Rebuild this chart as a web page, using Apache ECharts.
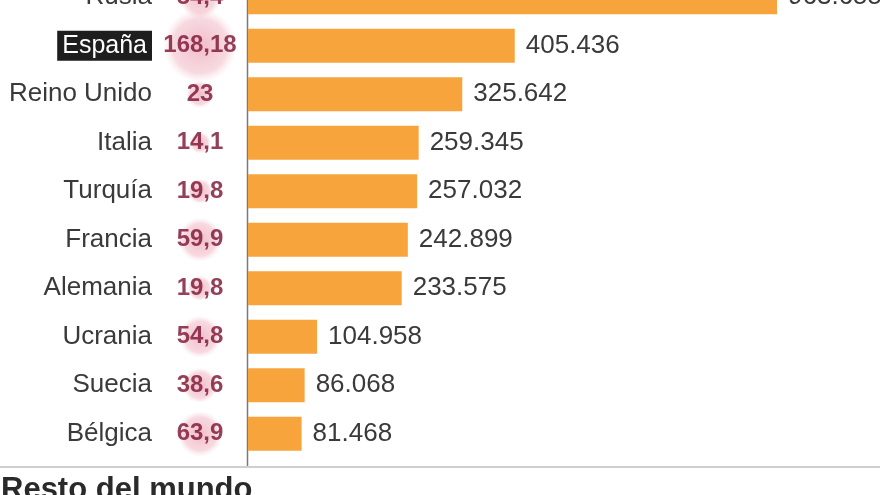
<!DOCTYPE html>
<html>
<head>
<meta charset="utf-8">
<script src="https://cdn.jsdelivr.net/npm/echarts@6/dist/echarts.min.js"></script>
<style>html,body{margin:0;padding:0;background:#fff}#c{width:880px;height:495px}</style>
</head>
<body>
<div id="c"></div>
<script>
const countries = ['Rusia', 'España', 'Reino Unido', 'Italia', 'Turquía', 'Francia', 'Alemania', 'Ucrania', 'Suecia', 'Bélgica'];
const cases = [963655, 405436, 325642, 259345, 257032, 242899, 233575, 104958, 86068, 81468];
const incidence = [54.4, 168.18, 23, 14.1, 19.8, 59.9, 19.8, 54.8, 38.6, 63.9];
const highlight = 'España';
const footerTitle = 'Resto del mundo';

const fmtInt = v => String(v).replace(/\B(?=(\d{3})+(?!\d))/g, '.');
const fmtDec = v => String(v).replace('.', ',');

const font = '"Liberation Sans", Arial, sans-serif';
const gridTop = -27, gridH = 485;

const chart = echarts.init(document.getElementById('c'), null, {renderer: 'canvas'});
chart.setOption({
  backgroundColor: '#fff',
  animation: false,
  grid: [
    {left: 248, right: 103, top: gridTop, height: gridH, outerBoundsMode: 'none', containLabel: false},
    {left: 160, width: 80, top: gridTop, height: gridH, outerBoundsMode: 'none', containLabel: false}
  ],
  xAxis: [
    {gridIndex: 0, type: 'value', min: 0, max: 804000, show: false},
    {gridIndex: 1, type: 'value', min: 0, max: 1, show: false}
  ],
  yAxis: [
    {
      gridIndex: 0, type: 'category', data: countries, inverse: true,
      axisLine: {show: false}, axisTick: {show: false}, splitLine: {show: false},
      axisLabel: {
        margin: 96,
        fontFamily: font,
        formatter: v => v === highlight ? '{hl|' + v + '}' : '{n|' + v + '}',
        rich: {
          n: {fontSize: 26, color: '#3a3a3a', fontFamily: font},
          hl: {fontSize: 25, color: '#fff', backgroundColor: '#1e1e1e', padding: [3, 5, 2, 5], fontFamily: font}
        }
      }
    },
    {gridIndex: 1, type: 'category', data: countries, inverse: true, show: false}
  ],
  series: [
    {
      type: 'bar',
      xAxisIndex: 0, yAxisIndex: 0,
      data: cases,
      barWidth: 34,
      clip: true,
      itemStyle: {color: '#f7a43d'},
      label: {
        show: true, position: 'right', distance: 11,
        formatter: p => fmtInt(p.value),
        fontSize: 26, color: '#3a3a3a', fontFamily: font
      }
    },
    {
      type: 'scatter',
      xAxisIndex: 1, yAxisIndex: 1,
      data: countries.map((c, i) => [0.5, c, incidence[i]]),
      symbol: 'circle',
      symbolSize: v => 5.6 * Math.sqrt(v[2]),
      itemStyle: {
        color: {
          type: 'radial', x: 0.5, y: 0.5, r: 0.5,
          colorStops: [
            {offset: 0, color: 'rgba(226,120,148,0.62)'},
            {offset: 0.75, color: 'rgba(234,150,170,0.45)'},
            {offset: 1, color: 'rgba(242,190,202,0.05)'}
          ]
        }
      },
      label: {
        show: true, position: 'inside',
        formatter: p => fmtDec(p.value[2]),
        fontSize: 24, fontWeight: 'bold', color: '#7a1030', fontFamily: font
      },
      z: 3
    }
  ],
  graphic: [
    {type: 'line', shape: {x1: 247.5, y1: 0, x2: 247.5, y2: 466}, style: {stroke: '#7a7a7a', lineWidth: 1.5}},
    {type: 'line', shape: {x1: 0, y1: 467, x2: 880, y2: 467}, style: {stroke: '#cfcfcf', lineWidth: 2}},
    {type: 'text', left: 1, top: 475, style: {text: footerTitle, font: 'bold 31px ' + font, fill: '#2a2a2a'}}
  ]
});
</script>
</body>
</html>
